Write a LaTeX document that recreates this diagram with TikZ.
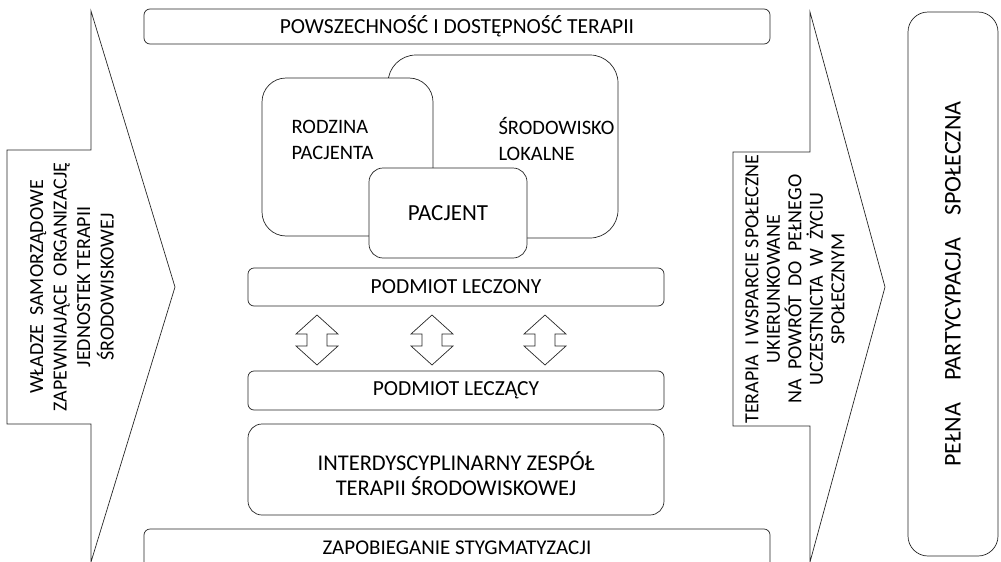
\documentclass[tikz,border=0pt]{standalone}
\usepackage{fontspec}
\setmainfont{Carlito}
\begin{document}
\begin{tikzpicture}[x=1pt,y=-1pt,
  line/.style={draw=black!85, line width=0.7pt},
  rbox/.style={line, fill=white, rounded corners=#1, inner sep=0pt},
  rbox/.default=6pt,
  lbl/.style={font=\fontsize{21.5}{25}\selectfont, align=center, text=black}]
\useasboundingbox (0,0) rectangle (1001,562);
\clip (0,0) rectangle (1001,562);

% left block arrow: local authorities
\draw[line, line join=miter] (7,150) -- (91,150) -- (91,11) -- (175,287) -- (91,562) -- (91,424) -- (7,424) -- cycle;
\node[lbl, rotate=90, font=\fontsize{20}{23.5}\selectfont] (wladze) at (72,287)
  {WŁADZE \ SAMORZĄDOWE\\ZAPEWNIAJĄCE \ ORGANIZACJĘ\\JEDNOSTEK TERAPII\\ŚRODOWISKOWEJ};

% right block arrow: therapy and social support
\draw[line, line join=miter] (733,152) -- (810,152) -- (810,12) -- (885,287) -- (810,562) -- (810,426) -- (733,426) -- cycle;
\node[lbl, rotate=90, font=\fontsize{20}{21.5}\selectfont] (terapia) at (795,289)
  {TERAPIA \ I WSPARCIE SPOŁECZNE\\UKIERUNKOWANE\\NA \ POWRÓT \ DO \ PEŁNEGO\\UCZESTNICTA \ W \ ŻYCIU\\SPOŁECZNYM};

% outcome
\node[rbox=20pt, minimum width=544pt, minimum height=90pt, rotate=90,
  font=\fontsize{24}{28}\selectfont] (pelna) at (953,284)
  {PEŁNA\hspace{22pt}PARTYCYPACJA\hspace{22pt}SPOŁECZNA};

% framing bands
\node[rbox, minimum width=626pt, minimum height=35pt, lbl] (powsz) at (457,26.5)
  {POWSZECHNOŚĆ I DOSTĘPNOŚĆ TERAPII};
\node[rbox, minimum width=626pt, minimum height=46pt] (zapob) at (457,552) {};
\node[lbl, font=\fontsize{21}{25}\selectfont] (zapobt) at (457,548) {ZAPOBIEGANIE STYGMATYZACJI};

% patient and surroundings
\node[rbox=28pt, minimum width=230pt, minimum height=183pt] (srod) at (503,146.5) {};
\node[lbl, align=left, anchor=west, font=\fontsize{20.5}{26}\selectfont] (srodt) at (495,139) {ŚRODOWISKO\\LOKALNE};
\node[rbox=24pt, minimum width=171pt, minimum height=158pt] (rodz) at (347.5,157) {};
\node[lbl, align=left, anchor=west, font=\fontsize{20.5}{26}\selectfont] (rodzt) at (288,140) {RODZINA\\PACJENTA};
\node[rbox=14pt, minimum width=158pt, minimum height=90pt, font=\fontsize{23}{26}\selectfont] (pacjent) at (448,213) {PACJENT};

% treated and treating parties
\node[rbox, minimum width=416pt, minimum height=38pt, lbl] (leczony) at (456,287) {PODMIOT LECZONY};
\node[rbox, minimum width=416pt, minimum height=39pt, lbl] (leczacy) at (456,390.5) {PODMIOT LECZĄCY};
\node[rbox=14pt, minimum width=416pt, minimum height=91pt] (zespol) at (456,469.5) {};
\node[lbl, font=\fontsize{22.5}{25}\selectfont] (zespolt) at (456,474)
  {INTERDYSCYPLINARNY ZESPÓŁ\\TERAPII ŚRODOWISKOWEJ};

% two-way exchange between the parties
\foreach \cx in {317,432,545} {
  \draw[line, line join=miter] (\cx,315) -- (\cx+21,334) -- (\cx+10,334) -- (\cx+10,346) -- (\cx+21,346)
    -- (\cx,365) -- (\cx-21,346) -- (\cx-10,346) -- (\cx-10,334) -- (\cx-21,334) -- cycle;
}
\end{tikzpicture}
\end{document}
